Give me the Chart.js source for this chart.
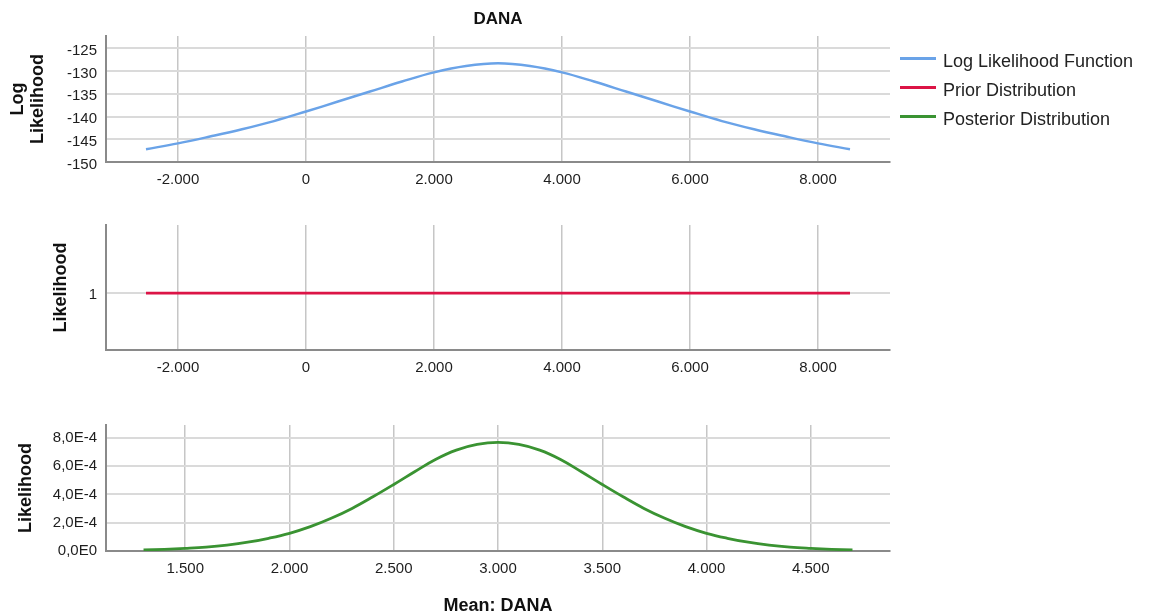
<!DOCTYPE html>
<html><head><meta charset="utf-8">
<script src="https://cdn.jsdelivr.net/npm/chart.js@4.4.1/dist/chart.umd.min.js"></script>
<style>
html,body{margin:0;padding:0;background:#fff;}
#wrap{position:relative;width:1150px;height:616px;overflow:hidden;font-family:"Liberation Sans",Arial,sans-serif;}
canvas{position:absolute;left:0;}
.leg{position:absolute;left:900px;width:36px;height:3px;}
.lt{position:absolute;left:943px;font-size:18px;color:#222;line-height:20px;white-space:nowrap;}
</style></head><body>
<div id="wrap">
<canvas id="c1" width="1150" height="195" style="top:0px;width:1150px;height:195px"></canvas>
<canvas id="c2" width="1150" height="200" style="top:195px;width:1150px;height:200px"></canvas>
<canvas id="c3" width="1150" height="221" style="top:395px;width:1150px;height:221px"></canvas>
<div class="leg" style="top:56.5px;background:#6aa3e8"></div><div class="lt" style="top:51px">Log Likelihood Function</div>
<div class="leg" style="top:85.5px;background:#dc1446"></div><div class="lt" style="top:80px">Prior Distribution</div>
<div class="leg" style="top:114.5px;background:#3a9332"></div><div class="lt" style="top:109px">Posterior Distribution</div>
</div>
<script>
// ---- data ----
const meanWide = [-2500,-2000,-1500,-1000,-500,0,500,1000,1500,2000,2500,3000,3500,4000,4500,5000,5500,6000,6500,7000,7500,8000,8500];
const logLikelihood = [-147.2,-145.9,-144.4,-142.8,-141.0,-138.9,-136.7,-134.5,-132.3,-130.3,-128.9,-128.3,-128.9,-130.3,-132.3,-134.5,-136.7,-138.9,-141.0,-142.8,-144.4,-145.9,-147.2];
const priorLikelihood = [1,1,1,1,1,1,1,1,1,1,1,1,1,1,1,1,1,1,1,1,1,1,1];
const meanNarrow = [1300,1400,1500,1600,1700,1800,1900,2000,2100,2200,2300,2400,2500,2600,2700,2800,2900,3000,3100,3200,3300,3400,3500,3600,3700,3800,3900,4000,4100,4200,4300,4400,4500,4600,4700];
const posteriorLikelihood = [0.07e-4,0.12e-4,0.19e-4,0.28e-4,0.42e-4,0.62e-4,0.9e-4,1.25e-4,1.72e-4,2.31e-4,3.01e-4,3.83e-4,4.7e-4,5.6e-4,6.47e-4,7.13e-4,7.53e-4,7.67e-4,7.53e-4,7.13e-4,6.47e-4,5.6e-4,4.7e-4,3.83e-4,3.01e-4,2.31e-4,1.72e-4,1.25e-4,0.9e-4,0.62e-4,0.42e-4,0.28e-4,0.19e-4,0.12e-4,0.07e-4];

const xTicksWide = [-2000,0,2000,4000,6000,8000];
const xLabelsWide = ['-2.000','0','2.000','4.000','6.000','8.000'];
const xTicksNarrow = [1500,2000,2500,3000,3500,4000,4500];
const xLabelsNarrow = ['1.500','2.000','2.500','3.000','3.500','4.000','4.500'];
const yTicksLog = [-150,-145,-140,-135,-130,-125];
const yLabelsLog = ['-150','-145','-140','-135','-130','-125'];
const yTicksPrior = [1];
const yLabelsPrior = ['1'];
const yTicksPost = [0,2e-4,4e-4,6e-4,8e-4];
const yLabelsPost = ['0,0E0','2,0E-4','4,0E-4','6,0E-4','8,0E-4'];

// ---- styles ----
const FONT = '"Liberation Sans", Arial, sans-serif';
Chart.defaults.font.family = FONT;
Chart.defaults.color = '#1e1e1e';

function pts(xs, ys){ return xs.map((x,i)=>({x:x, y:ys[i]})); }

function makeChart(id, cfg){
  const xScale = {
    type:'linear', min:cfg.xmin, max:cfg.xmax,
    afterBuildTicks: s => { s.ticks = cfg.xTicks.map(v=>({value:v})); },
    afterFit: s => { s.height = cfg.xh; },
    ticks:{ autoSkip:false, maxRotation:0, padding:8.5, font:{size:15}, color:'#1e1e1e',
      callback:(v,i)=>cfg.xLabels[i] },
    grid:{ color:'#c6c6c6', lineWidth:1.5, drawTicks:false },
    border:{ color:'#8a8a8a', width:2 },
    title: cfg.xTitle ? { display:true, text:cfg.xTitle, font:{size:18, weight:'bold', lineHeight:20/18}, color:'#111', padding:{top:0,bottom:0} } : {display:false}
  };
  const yScale = {
    type:'linear', min:cfg.ymin, max:cfg.ymax,
    afterBuildTicks: s => { s.ticks = cfg.yTicks.map(v=>({value:v})); },
    afterFit: s => { s.width = 106; },
    ticks:{ autoSkip:false, padding:9, font:{size:15}, color:'#1e1e1e', labelOffset:cfg.yLabelOffset,
      callback:(v,i)=>cfg.yLabels[i] },
    grid:{ color:'#dadada', lineWidth:2, drawTicks:false },
    border:{ color:'#8a8a8a', width:2 },
    title:{ display:true, text:cfg.yTitle, font:{size:18, weight:'bold', lineHeight:20/18}, color:'#111', padding:{top:cfg.yTitlePad, bottom:0} }
  };
  return new Chart(document.getElementById(id), {
    type:'line',
    data:{ datasets:[{ label:cfg.label, data:pts(cfg.xs, cfg.ys), borderColor:cfg.color, borderWidth:cfg.lw,
      pointRadius:0, tension:0.4, fill:false }] },
    options:{
      responsive:false, animation:false, devicePixelRatio:1,
      layout:{ padding:{ left:0, right:260, top:cfg.padTop, bottom:0 } },
      plugins:{
        legend:{display:false}, tooltip:{enabled:false},
        title: cfg.title ? { display:true, text:cfg.title, fullSize:false, font:{size:17, weight:'bold', lineHeight:1.2}, color:'#111', padding:{top:9,bottom:6.6} } : {display:false}
      },
      scales:{ x:xScale, y:yScale }
    }
  });
}

makeChart('c1', { label:'Log Likelihood Function', xs:meanWide, ys:logLikelihood, color:'#6aa3e8', lw:2.4,
  xmin:-3125, xmax:9125, xTicks:xTicksWide, xLabels:xLabelsWide, xh:33,
  ymin:-150, ymax:-122.3, yTicks:yTicksLog, yLabels:yLabelsLog, yLabelOffset:2.5,
  yTitle:['Log','Likelihood'], yTitlePad:8.3, padTop:0, title:'DANA' });

makeChart('c2', { label:'Prior Distribution', xs:meanWide, ys:priorLikelihood, color:'#dc1446', lw:2.8,
  xmin:-3125, xmax:9125, xTicks:xTicksWide, xLabels:xLabelsWide, xh:45,
  ymin:0.5, ymax:1.6, yTicks:yTicksPrior, yLabels:yLabelsPrior, yLabelOffset:1.5,
  yTitle:'Likelihood', yTitlePad:50.8, padTop:30 });

makeChart('c3', { label:'Posterior Distribution', xs:meanNarrow, ys:posteriorLikelihood, color:'#3a9332', lw:2.8,
  xmin:1120, xmax:4880, xTicks:xTicksNarrow, xLabels:xLabelsNarrow, xh:65, xTitle:'Mean: DANA',
  ymin:0, ymax:8.9e-4, yTicks:yTicksPost, yLabels:yLabelsPost, yLabelOffset:0,
  yTitle:'Likelihood', yTitlePad:15.8, padTop:30 });
</script>
</body></html>
